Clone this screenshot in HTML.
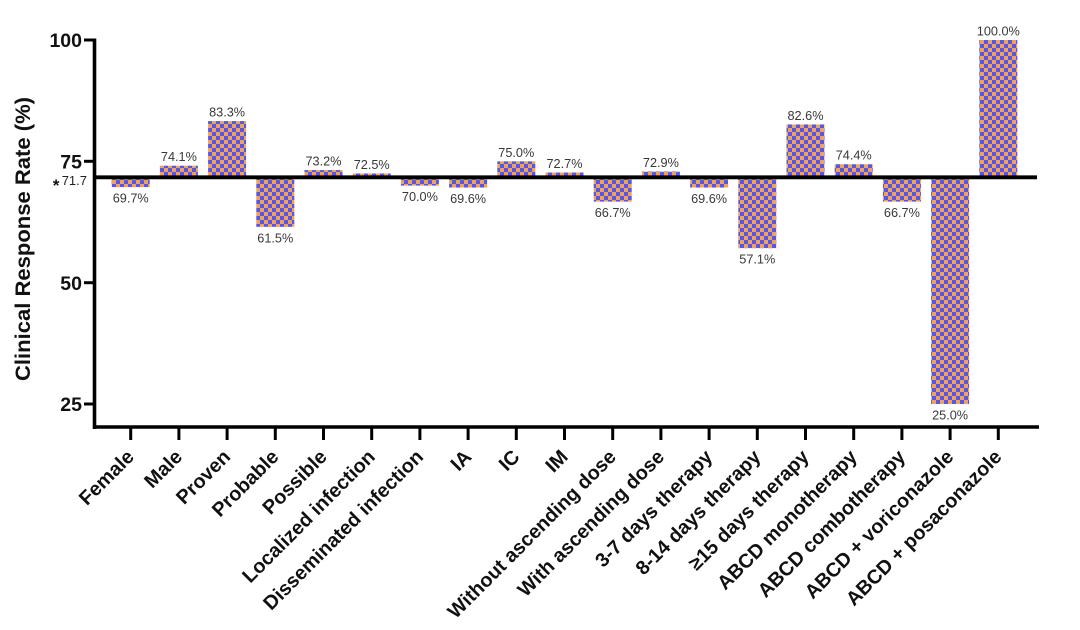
<!DOCTYPE html>
<html>
<head>
<meta charset="utf-8">
<style>
  html,body{margin:0;padding:0;background:#ffffff;}
  svg{display:block;}
  .tick{font-family:"Liberation Sans",Arial,sans-serif;font-weight:bold;font-size:19.5px;fill:#111;}
  .xl{font-family:"Liberation Sans",Arial,sans-serif;font-weight:bold;font-size:19.8px;fill:#111;}
  .dl{font-family:"Liberation Sans",Arial,sans-serif;font-size:12.7px;fill:#383838;}
</style>
</head>
<body>
<svg width="1080" height="630" viewBox="0 0 1080 630" xmlns="http://www.w3.org/2000/svg">
  <defs>
    <pattern id="chk" patternUnits="userSpaceOnUse" width="8" height="8">
      <rect x="0" y="0" width="8" height="8" fill="#eca35f"/>
      <rect x="0" y="0" width="4" height="4" fill="#5a55e2"/>
      <rect x="4" y="4" width="4" height="4" fill="#5a55e2"/>
    </pattern>
  </defs>
  <rect width="1080" height="630" fill="#ffffff"/>

  <!-- Y axis label -->
  <text transform="translate(30,239) rotate(-90)" text-anchor="middle" font-family="Liberation Sans, Arial, sans-serif" font-weight="bold" font-size="21.5" fill="#111" textLength="284" lengthAdjust="spacingAndGlyphs">Clinical Response Rate (%)</text>

  <!-- Y ticks -->
  <g stroke="#000" stroke-width="3">
    <line x1="84" y1="40" x2="95" y2="40"/>
    <line x1="84" y1="161.3" x2="95" y2="161.3"/>
    <line x1="84" y1="282.7" x2="95" y2="282.7"/>
    <line x1="84" y1="404" x2="95" y2="404"/>
  </g>
  <text class="tick" x="82" y="47" text-anchor="end">100</text>
  <text class="tick" x="82" y="168.5" text-anchor="end">75</text>
  <text class="tick" x="82" y="290" text-anchor="end">50</text>
  <text class="tick" x="82" y="411" text-anchor="end">25</text>
  <text x="56" y="191" text-anchor="middle" font-family="Liberation Sans, Arial, sans-serif" font-weight="bold" font-size="17" fill="#111">*</text>
  <text x="87" y="185" text-anchor="end" font-family="Liberation Sans, Arial, sans-serif" font-size="13" fill="#222">71.7</text>

  <!-- Bars -->
  <g fill="url(#chk)">
    <rect x="111.7" y="177.3" width="38" height="9.75"/>
    <rect x="159.9" y="165.7" width="38" height="11.6"/>
    <rect x="208.1" y="121.05" width="38" height="56.25"/>
    <rect x="256.3" y="177.3" width="38" height="49.54"/>
    <rect x="304.5" y="170.06" width="38" height="7.24"/>
    <rect x="352.7" y="173.46" width="38" height="3.84"/>
    <rect x="400.9" y="177.3" width="38" height="8.29"/>
    <rect x="449.1" y="177.3" width="38" height="10.23"/>
    <rect x="497.3" y="161.33" width="38" height="15.97"/>
    <rect x="545.5" y="172.49" width="38" height="4.81"/>
    <rect x="593.7" y="177.3" width="38" height="24.3"/>
    <rect x="641.9" y="171.52" width="38" height="5.78"/>
    <rect x="690.1" y="177.3" width="38" height="10.23"/>
    <rect x="738.3" y="177.3" width="38" height="70.89"/>
    <rect x="786.5" y="124.44" width="38" height="52.86"/>
    <rect x="834.7" y="164.24" width="38" height="13.06"/>
    <rect x="882.9" y="177.3" width="38" height="24.3"/>
    <rect x="931.1" y="177.3" width="38" height="226.68"/>
    <rect x="979.3" y="40" width="38" height="137.3"/>
  </g>

  <!-- Data labels -->
  <g class="dl" text-anchor="middle">
    <text x="130.7" y="202.5">69.7%</text>
    <text x="178.9" y="161.2">74.1%</text>
    <text x="227.1" y="116.5">83.3%</text>
    <text x="275.3" y="242.3">61.5%</text>
    <text x="323.5" y="165.5">73.2%</text>
    <text x="371.7" y="168.9">72.5%</text>
    <text x="419.9" y="201.1">70.0%</text>
    <text x="468.1" y="203">69.6%</text>
    <text x="516.3" y="156.8">75.0%</text>
    <text x="564.5" y="167.9">72.7%</text>
    <text x="612.7" y="217.1">66.7%</text>
    <text x="660.9" y="167">72.9%</text>
    <text x="709.1" y="203">69.6%</text>
    <text x="757.3" y="263.7">57.1%</text>
    <text x="805.5" y="119.9">82.6%</text>
    <text x="853.7" y="159.7">74.4%</text>
    <text x="901.9" y="217.1">66.7%</text>
    <text x="950.1" y="419.5">25.0%</text>
    <text x="998.3" y="35.5">100.0%</text>
  </g>

  <!-- Reference line -->
  <line x1="93" y1="177.3" x2="1037" y2="177.3" stroke="#000" stroke-width="3.8"/>

  <!-- Axes -->
  <line x1="94.5" y1="38.5" x2="94.5" y2="429" stroke="#000" stroke-width="3.6"/>
  <line x1="93" y1="427" x2="1039" y2="427" stroke="#000" stroke-width="3.6"/>

  <!-- X ticks -->
  <g stroke="#000" stroke-width="3">
    <line x1="130.7" y1="427" x2="130.7" y2="440"/>
    <line x1="178.9" y1="427" x2="178.9" y2="440"/>
    <line x1="227.1" y1="427" x2="227.1" y2="440"/>
    <line x1="275.3" y1="427" x2="275.3" y2="440"/>
    <line x1="323.5" y1="427" x2="323.5" y2="440"/>
    <line x1="371.7" y1="427" x2="371.7" y2="440"/>
    <line x1="419.9" y1="427" x2="419.9" y2="440"/>
    <line x1="468.1" y1="427" x2="468.1" y2="440"/>
    <line x1="516.3" y1="427" x2="516.3" y2="440"/>
    <line x1="564.5" y1="427" x2="564.5" y2="440"/>
    <line x1="612.7" y1="427" x2="612.7" y2="440"/>
    <line x1="660.9" y1="427" x2="660.9" y2="440"/>
    <line x1="709.1" y1="427" x2="709.1" y2="440"/>
    <line x1="757.3" y1="427" x2="757.3" y2="440"/>
    <line x1="805.5" y1="427" x2="805.5" y2="440"/>
    <line x1="853.7" y1="427" x2="853.7" y2="440"/>
    <line x1="901.9" y1="427" x2="901.9" y2="440"/>
    <line x1="950.1" y1="427" x2="950.1" y2="440"/>
    <line x1="998.3" y1="427" x2="998.3" y2="440"/>
  </g>

  <!-- X labels -->
  <g class="xl" text-anchor="end">
    <text transform="translate(135.2,458) rotate(-45)">Female</text>
    <text transform="translate(183.4,458) rotate(-45)">Male</text>
    <text transform="translate(231.6,458) rotate(-45)">Proven</text>
    <text transform="translate(279.8,458) rotate(-45)">Probable</text>
    <text transform="translate(328,458) rotate(-45)">Possible</text>
    <text transform="translate(376.2,458) rotate(-45)">Localized infection</text>
    <text transform="translate(424.4,458) rotate(-45)">Disseminated infection</text>
    <text transform="translate(472.6,458) rotate(-45)">IA</text>
    <text transform="translate(520.8,458) rotate(-45)">IC</text>
    <text transform="translate(569,458) rotate(-45)">IM</text>
    <text transform="translate(617.2,458) rotate(-45)">Without ascending dose</text>
    <text transform="translate(665.4,458) rotate(-45)">With ascending dose</text>
    <text transform="translate(713.6,458) rotate(-45)">3-7 days therapy</text>
    <text transform="translate(761.8,458) rotate(-45)">8-14 days therapy</text>
    <text transform="translate(810,458) rotate(-45)">≥15 days therapy</text>
    <text transform="translate(858.2,458) rotate(-45)">ABCD monotherapy</text>
    <text transform="translate(906.4,458) rotate(-45)">ABCD combotherapy</text>
    <text transform="translate(954.6,458) rotate(-45)">ABCD + voriconazole</text>
    <text transform="translate(1002.8,458) rotate(-45)">ABCD + posaconazole</text>
  </g>
</svg>
</body>
</html>
